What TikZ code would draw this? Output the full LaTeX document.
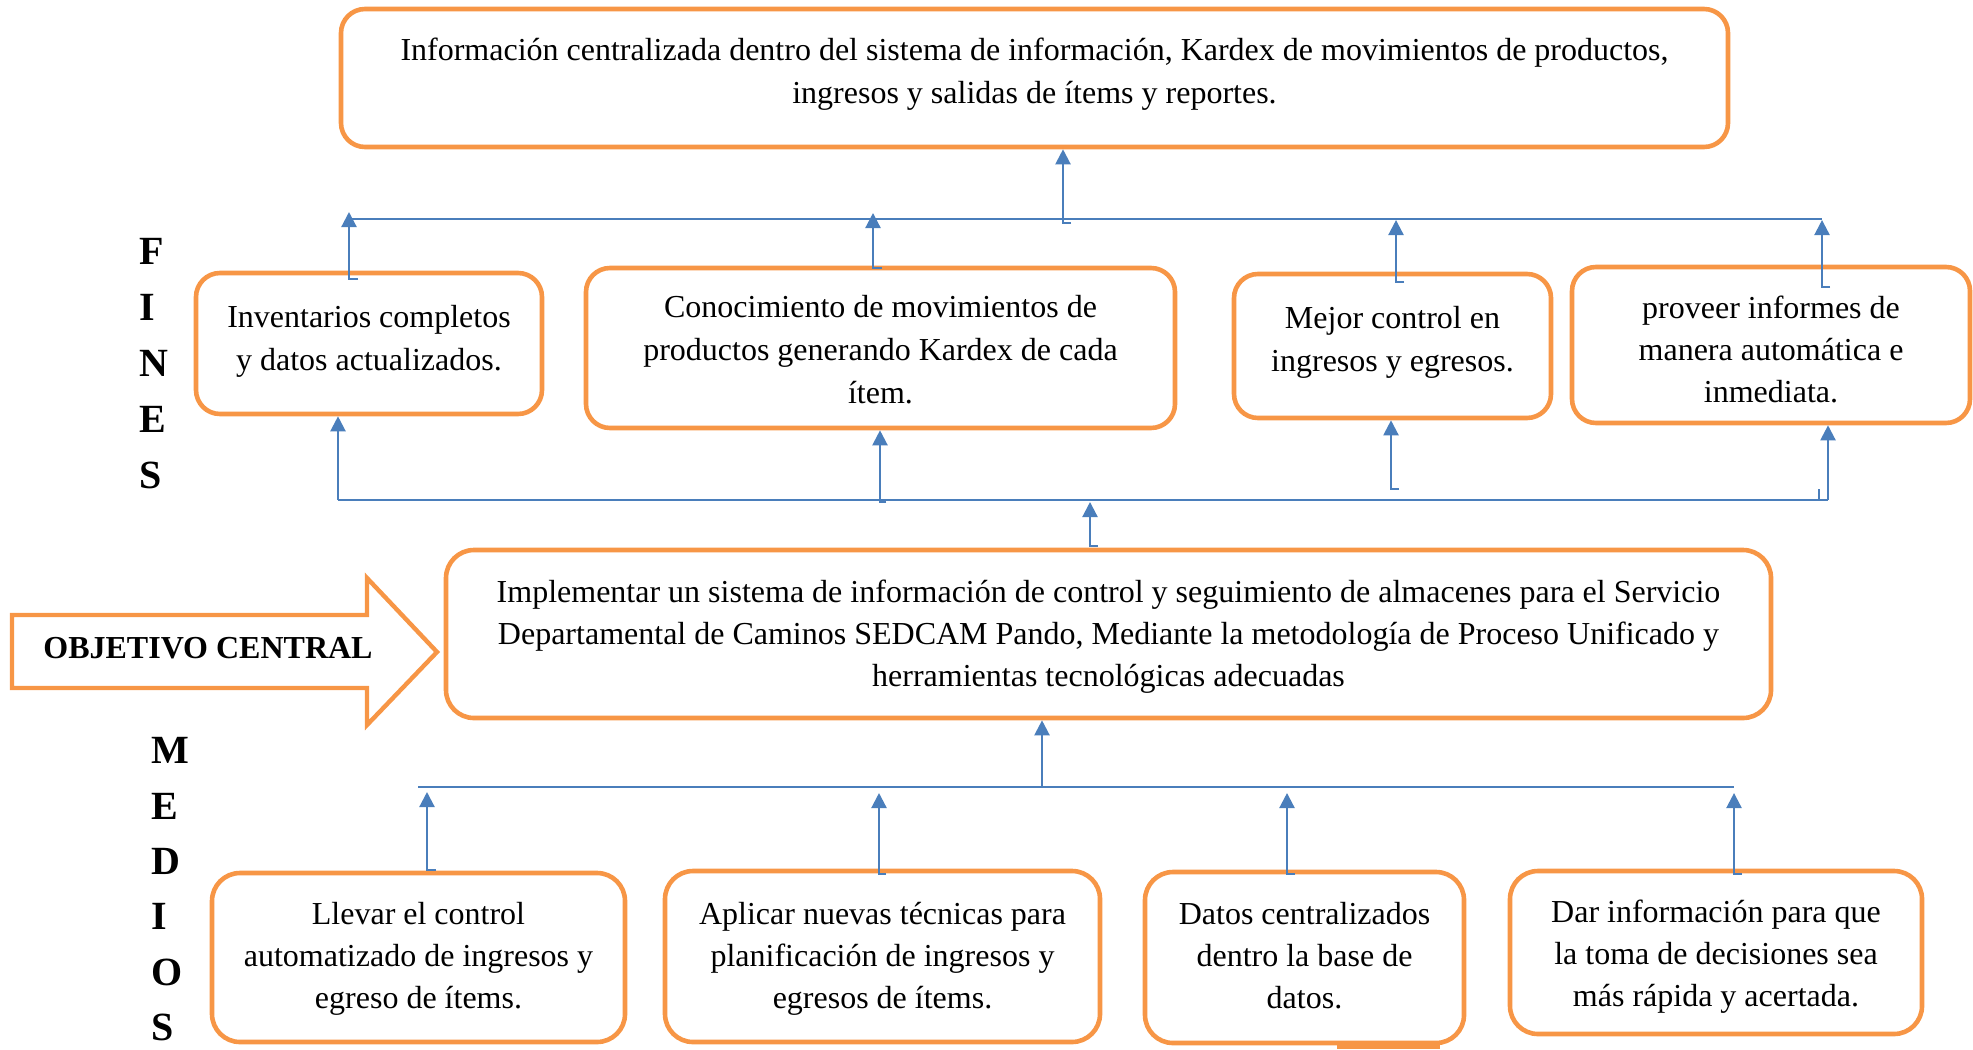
\documentclass[tikz,border=0pt]{standalone}
\usepackage{fontspec}
\setmainfont{Liberation Serif}
\usetikzlibrary{arrows.meta}
\definecolor{boxorange}{HTML}{F79646}
\definecolor{linkblue}{HTML}{4A7EBB}
% \obox[radius]{name}{x1}{y1}{x2}{y2}
\newcommand\obox[6][12pt]{%
  \node[box, rounded corners=#1, minimum width={(#5-#3)*0.5pt}, minimum height={(#6-#4)*0.5pt}] (#2) at ({(#3+#5)/2},{(#4+#6)/2}) {};}
\begin{document}
\begin{tikzpicture}[x=0.5pt,y=-0.5pt,
  box/.style={draw=boxorange, line width=2.3pt, inner sep=0pt, fill=white},
  txt/.style={align=center, inner sep=0pt, font=\fontsize{16}{21}\selectfont},
  txtb/.style={align=center, inner sep=0pt, font=\fontsize{16}{21.5}\selectfont},
  link/.style={draw=linkblue, line width=1.1pt},
  arr/.style={link, -{Triangle[width=7.5pt,length=7.5pt]}},
  bigletters/.style={align=left, inner sep=0pt, anchor=north west}
]
\useasboundingbox (0,0) rectangle (1973,1049);

% ---------- boxes ----------
\obox{T}{341}{9}{1728}{147}
\obox{F1}{196}{273}{542}{414}
\obox{F2}{586}{268}{1175}{428}
\obox{F3}{1234}{274}{1551}{418}
\obox{F4}{1572}{267}{1970}{423}
\obox[14pt]{O}{446}{550}{1771}{718}
\draw[boxorange, line width=2.6pt] (1337,1046.5) -- (1440,1046.5);
\obox[14pt]{M1}{212}{873}{625}{1042}
\obox[14pt]{M2}{665}{871}{1100}{1042}
\obox[14pt]{M3}{1145}{872}{1464}{1043}
\obox[14pt]{M4}{1510}{871}{1922}{1034}

% ---------- texts ----------
\node[txtb] (Tt) at (1034.5,73) {\strut Información centralizada dentro del sistema de información, Kardex de movimientos de productos,\\ingresos y salidas de ítems y reportes.\strut};
\node[txtb] (F1t) at (369,340) {\strut Inventarios completos\\y datos actualizados.\strut};
\node[txtb] (F2t) at (880.5,352) {\strut Conocimiento de movimientos de\\productos generando Kardex de cada\\ítem.\strut};
\node[txtb] (F3t) at (1392.5,341) {\strut Mejor control en\\ingresos y egresos.\strut};
\node[txt] (F4t) at (1771,352) {\strut proveer informes de\\manera automática e\\inmediata.\strut};
\node[txt] (Ot) at (1108.5,636) {\strut Implementar un sistema de información de control y seguimiento de almacenes para el Servicio\\Departamental de Caminos SEDCAM Pando, Mediante la metodología de Proceso Unificado y\\herramientas tecnológicas adecuadas\strut};
\node[txt] (M1t) at (418.5,958) {\strut Llevar el control\\automatizado de ingresos y\\egreso de ítems.\strut};
\node[txt] (M2t) at (882.5,958) {\strut Aplicar nuevas técnicas para\\planificación de ingresos y\\egresos de ítems.\strut};
\node[txt] (M3t) at (1304.5,958) {\strut Datos centralizados\\dentro la base de\\datos.\strut};
\node[txt] (M4t) at (1716,956) {\strut Dar información para que\\la toma de decisiones sea\\más rápida y acertada.\strut};

% ---------- side labels ----------
\node[bigletters, font=\fontsize{20}{28}\selectfont\bfseries] (fines) at (139,238) {F\\I\\N\\E\\S};
\node[bigletters, font=\fontsize{20}{27.7}\selectfont\bfseries] (medios) at (151,737) {M\\E\\D\\I\\O\\S};

% ---------- block arrow ----------
\draw[boxorange, line width=2.2pt, line join=miter] (12,615) -- (367,615) -- (367,578) -- (437,652) -- (367,725) -- (367,688) -- (12,688) -- cycle;
\node[inner sep=0pt, anchor=base west, font=\fontsize{16}{19}\selectfont\bfseries] (obj) at (43,658) {OBJETIVO CENTRAL};

% ---------- connectors: fines -> top ----------
\coordinate (upL) at (350,219);
\coordinate (upR) at (1822,219);
\draw[link] (upL) -- (upR);
\draw[arr] (358,279) -| (349,212);
\draw[arr] (882,268) -| (873,213);
\draw[arr] (1404,282) -| (1396,220);
\draw[arr] (1830,287) -| (1822,220);
\draw[arr] (1071,223) -| (1063,0 |- T.south);

% ---------- connectors: objective -> fines ----------
\coordinate (loL) at (338,500);
\coordinate (loR) at (1828,500);
\draw[link] (loL) -- (loR);
\draw[arr] (loL) -- (338,0 |- F1.south);
\draw[arr] (886,502) -| (880,0 |- F2.south);
\draw[arr] (1399,489) -| (1391,0 |- F3.south);
\draw[arr] (loR) -- (1828,0 |- F4.south);
\draw[link] (1819,489) -- (1819,500);
\draw[arr] (1098,546) -| (1090,502);

% ---------- connectors: medios -> objective ----------
\coordinate (meL) at (418,787);
\coordinate (meR) at (1734,787);
\draw[link] (meL) -- (meR);
\draw[arr] (1042,787) -- (1042,0 |- O.south);
\draw[arr] (436,870) -| (427,792);
\draw[arr] (886,874) -| (879,793);
\draw[arr] (1295,874) -| (1287,793);
\draw[arr] (1742,874) -| (1734,793);
\end{tikzpicture}
\end{document}
